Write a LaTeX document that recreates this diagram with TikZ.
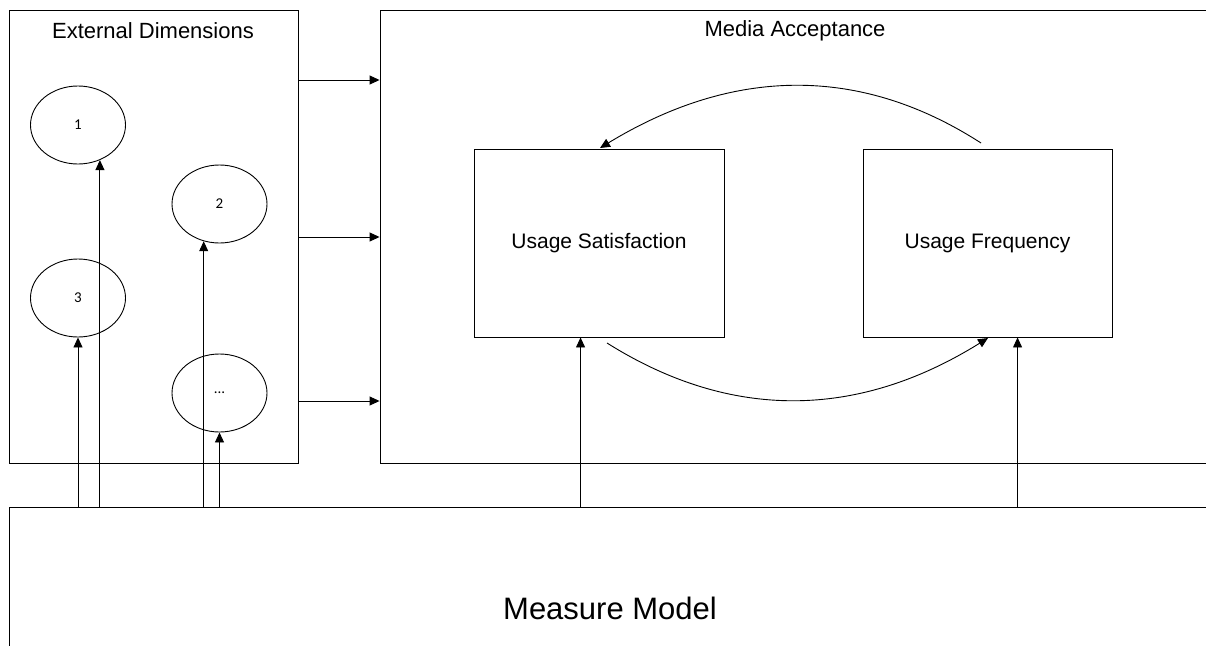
\documentclass[tikz,border=0pt]{standalone}
\usepackage{fontspec}
\setmainfont{Liberation Sans}
\newfontfamily\calfont{Carlito}
\usetikzlibrary{arrows.meta,shapes.geometric}
\begin{document}
\begin{tikzpicture}[x=1pt,y=-1pt,
  box/.style={draw,line width=0.9pt,inner sep=0pt,rectangle},
  ell/.style={draw,ellipse,line width=0.9pt,minimum width=95pt,minimum height=78pt,inner sep=0pt,font=\calfont\fontsize{15}{18}\selectfont},
  arr/.style={line width=0.9pt,-{Triangle[length=10pt,width=9pt]}},
  curv/.style={line width=0.9pt},
  lab/.style={font=\fontsize{22}{26}\selectfont},
  boxlab/.style={font=\fontsize{21}{25}\selectfont}]
\useasboundingbox (0,0) rectangle (1206,645);
\clip (0,0) rectangle (1206,645);
% containers
\node[box,minimum width=289pt,minimum height=453pt] (ext) at (153.5,236.5) {};
\node[box,minimum width=880pt,minimum height=453pt] (ma) at (820,236.5) {};
\node[box,minimum width=1251pt,minimum height=193pt] (mm) at (634.5,603.5) {};
% titles
\node[lab] (extt) at (153,31) {External Dimensions};
\node[lab] (mat) at (795,31) {Media Acceptance};
\node[font=\fontsize{31}{36}\selectfont] (mmt) at (610,608) {Measure Model};
% ellipses
\node[ell] (e1) at (78,125) {1};
\node[ell] (e2) at (219.5,204) {2};
\node[ell] (e3) at (78,298) {3};
\node[ell] (e4) at (219.5,393) {...};
% inner boxes
\node[box,boxlab,minimum width=250pt,minimum height=188pt] (us) at (599,243) {Usage Satisfaction};
\node[box,boxlab,minimum width=249pt,minimum height=188pt] (uf) at (987.5,243) {Usage Frequency};
% arrows ext -> ma
\foreach \yy in {80,237,401}{
  \draw[arr] (ext.east |- 0,\yy) -- (ma.west |- 0,\yy);
}
% arrows from measure model to ellipses
\draw[arr] (e3.south |- mm.north) -- (e3.south);
\draw[arr] (e1.-58 |- mm.north) -- (e1.-58);
\draw[arr] (e2.-113 |- mm.north) -- (e2.-113);
\draw[arr] (e4.south |- mm.north) -- (e4.south);
% arrows from measure model to boxes
\coordinate (usin) at ([xshift=107pt]us.south west);
\coordinate (ufin) at ([xshift=155pt]uf.south west);
\draw[arr] (usin |- mm.north) -- (usin);
\draw[arr] (ufin |- mm.north) -- (ufin);
% curved arrows
\coordinate (ts) at (981,143);
\coordinate (te) at (600,148);
\draw[curv,-{Triangle[length=10pt,width=9pt]}] (ts) .. controls (860,65) and (733,67) .. (te);
\coordinate (bs) at (607,343);
\coordinate (be) at (988,338);
\draw[curv,-{Triangle[length=10pt,width=9pt]}] (bs) .. controls (731,421) and (858,419) .. (be);
\end{tikzpicture}
\end{document}
